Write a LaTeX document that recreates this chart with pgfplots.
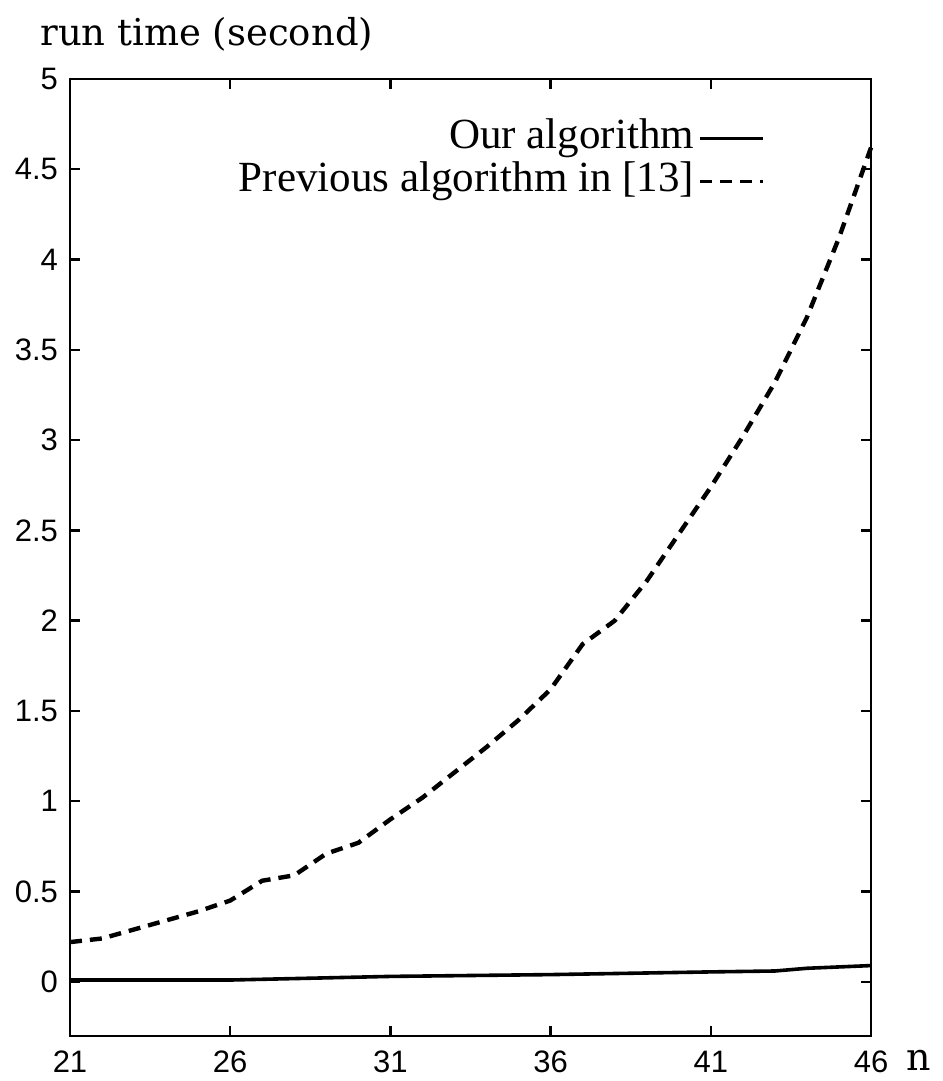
\documentclass[border=0pt]{standalone}
\usepackage{fontspec}
\setmainfont{Liberation Serif}
\setsansfont{Liberation Sans}
\newfontfamily\schfont{DejaVu Serif}
\usepackage{pgfplots}
\pgfplotsset{compat=1.18}
\begin{document}
\begin{tikzpicture}
\useasboundingbox (-35pt,-22.5pt) rectangle (436pt,518pt);
\begin{axis}[
  scale only axis,
  width=400.5pt, height=478.5pt,
  xmin=21, xmax=46, ymin=-0.3, ymax=5,
  xtick={21,26,31,36,41,46},
  ytick={0,0.5,1,1.5,2,2.5,3,3.5,4,4.5,5},
  tick align=inside,
  major tick length=5pt,
  axis line style={line width=1.4pt},
  every tick/.style={line width=1.2pt, black},
  /pgf/number format/assume math mode=true,
  tick label style={font=\sffamily\fontsize{15.5}{15.5}\selectfont},
  xticklabel style={yshift=-4pt},
  yticklabel style={xshift=-2.5pt},
  legend plot pos=right,
  legend cell align=right,
  legend image code/.code={\draw[#1,line width=1.3pt] (0pt,0pt) -- (31.5pt,0pt);},
  legend style={draw=none, fill=none, inner sep=0pt,
    at={(axis description cs:0.8677,0.961)}, anchor=north east,
    font=\fontsize{21.5}{21.5}\selectfont,
    column sep=1.5pt,
    nodes={inner sep=1pt, text height=15pt, text depth=4.5pt}},
  clip=false,
]
\addplot[black, line width=1.8pt] coordinates {
(21,0.01) (26,0.01) (31,0.03) (36,0.04) (41,0.055) (43,0.06) (44,0.075) (46,0.09)};
\addlegendentry{Our algorithm}
\addplot[black, line width=2.2pt, dash pattern=on 6pt off 4pt] coordinates {
(21,0.22) (22,0.24) (23,0.29) (24,0.34) (25,0.39) (26,0.45) (27,0.56) (28,0.59)
(29,0.71) (30,0.77) (31,0.90) (32,1.02) (33,1.16) (34,1.30) (35,1.45) (36,1.62)
(37,1.87) (38,2.00) (39,2.22) (40,2.48) (41,2.74) (42,3.02) (43,3.32) (44,3.68)
(45,4.12) (46,4.62)};
\addlegendentry{Previous algorithm in [13]}
\node[anchor=base west, font=\schfont\fontsize{18.5}{18.5}\selectfont, inner sep=0pt]
  at (axis description cs:-0.0375,1.0355) {run time (second)};
\node[anchor=base, font=\schfont\fontsize{19}{19}\selectfont, inner sep=0pt]
  at (axis description cs:1.0595,-0.0365) {n};
\end{axis}
\end{tikzpicture}
\end{document}
